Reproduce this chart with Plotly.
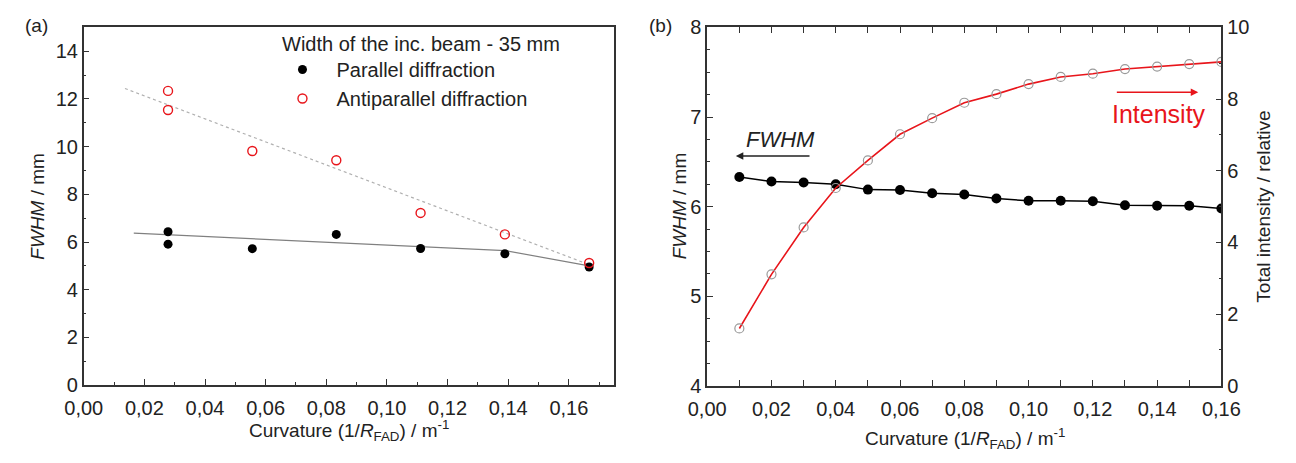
import plotly.graph_objects as go

# ---------- data ----------
# (a) FWHM vs curvature for a 35 mm incident beam
curv_a = [0.0278, 0.0278, 0.0556, 0.0833, 0.1111, 0.1389, 0.1667]
fwhm_parallel = [6.43, 5.91, 5.72, 6.32, 5.73, 5.51, 4.95]
fwhm_antiparallel = [12.34, 11.54, 9.82, 9.43, 7.22, 6.32, 5.12]

# guide lines through each series
guide_par_x = [0.0165, 0.1390, 0.1667]
guide_par_y = [6.37, 5.64, 5.00]
guide_anti_x = [0.0136, 0.1667]
guide_anti_y = [12.44, 5.05]

# (b) FWHM and total intensity vs curvature
curv_b = [0.01, 0.02, 0.03, 0.04, 0.05, 0.06, 0.07, 0.08,
          0.09, 0.10, 0.11, 0.12, 0.13, 0.14, 0.15, 0.16]
fwhm_b = [6.33, 6.28, 6.27, 6.25, 6.19, 6.185, 6.15, 6.135,
          6.09, 6.065, 6.065, 6.06, 6.015, 6.01, 6.01, 5.98]
intensity_b = [1.60, 3.11, 4.42, 5.52, 6.29, 7.02, 7.47, 7.90,
               8.14, 8.42, 8.62, 8.71, 8.84, 8.91, 8.98, 9.04]

x_ticks_a = [0.00, 0.02, 0.04, 0.06, 0.08, 0.10, 0.12, 0.14, 0.16]
x_ticks_b = [0.00, 0.02, 0.04, 0.06, 0.08, 0.10, 0.12, 0.14, 0.16]

FONT = "Liberation Sans, Arial, sans-serif"
RED = "#e8151b"
AXC = "#333333"
W, H = 1296, 463


def px_x(p):
    return p / W


def px_y(p):
    return (H - p) / H


fig = go.Figure()

# ---- panel (a) ----
fig.add_trace(go.Scatter(x=guide_anti_x, y=guide_anti_y, mode="lines",
                         line=dict(color="#b0b0b0", width=1.2, dash="dot"),
                         showlegend=False, hoverinfo="skip", xaxis="x", yaxis="y"))
fig.add_trace(go.Scatter(x=guide_par_x, y=guide_par_y, mode="lines",
                         line=dict(color="#808080", width=1.2),
                         showlegend=False, hoverinfo="skip", xaxis="x", yaxis="y"))
fig.add_trace(go.Scatter(x=curv_a, y=fwhm_parallel, mode="markers",
                         name="Parallel diffraction",
                         marker=dict(symbol="circle", size=9, color="black"),
                         xaxis="x", yaxis="y"))
fig.add_trace(go.Scatter(x=curv_a, y=fwhm_antiparallel, mode="markers",
                         name="Antiparallel diffraction",
                         marker=dict(symbol="circle-open", size=9, color=RED,
                                     line=dict(width=1.4)),
                         xaxis="x", yaxis="y"))

# ---- panel (b) ----
fig.add_trace(go.Scatter(x=curv_b, y=fwhm_b, mode="lines+markers",
                         line=dict(color="black", width=1.5),
                         marker=dict(symbol="circle", size=10, color="black"),
                         showlegend=False, xaxis="x2", yaxis="y2"))
fig.add_trace(go.Scatter(x=curv_b, y=intensity_b, mode="lines+markers",
                         line=dict(color=RED, width=1.6),
                         marker=dict(symbol="circle-open", size=9, color="#9a9a9a",
                                     line=dict(width=1.2)),
                         showlegend=False, xaxis="x2", yaxis="y3"))

tickfont = dict(family=FONT, size=20, color="#222222")
common = dict(showline=True, linecolor=AXC, linewidth=1.5, ticks="inside",
              tickcolor=AXC, tickwidth=1.2, ticklen=6, showgrid=False,
              zeroline=False, tickfont=tickfont)

fig.update_layout(
    width=W, height=H,
    margin=dict(l=0, r=0, t=0, b=0),
    paper_bgcolor="white", plot_bgcolor="white",
    separators=", ",
    font=dict(family=FONT, color="#222222"),
    xaxis=dict(domain=[px_x(66.7), px_x(613.3)], range=[0, 0.175],
               tickvals=x_ticks_a, tickformat=".2f", mirror=True,
               ticklabelstandoff=4,
               minor=dict(dtick=0.01, ticks="inside", ticklen=3, tickcolor=AXC),
               anchor="y", **common),
    yaxis=dict(domain=[px_y(392.7), px_y(17.3)], range=[0, 15], dtick=2,
               mirror=True,
               minor=dict(dtick=1, ticks="inside", ticklen=3, tickcolor=AXC),
               anchor="x", **common),
    xaxis2=dict(domain=[px_x(709), px_x(1238.7)], range=[0, 0.16],
                tickvals=x_ticks_b, tickformat=".2f", mirror="allticks",
                ticklabelstandoff=4,
                minor=dict(dtick=0.01, ticks="inside", ticklen=3, tickcolor=AXC),
                anchor="y2", **common),
    yaxis2=dict(domain=[px_y(393.5), px_y(17.3)], range=[4, 8], dtick=1,
                minor=dict(dtick=0.25, ticks="inside", ticklen=3, tickcolor=AXC),
                anchor="x2", **common),
    yaxis3=dict(range=[0, 10], dtick=2, overlaying="y2", side="right",
                anchor="x2",
                minor=dict(dtick=1, ticks="inside", ticklen=3, tickcolor=AXC),
                **common),
    legend=dict(x=px_x(257), y=px_y(41), xanchor="left", yanchor="top",
                bgcolor="rgba(0,0,0,0)", itemwidth=58,
                font=dict(family=FONT, size=20, color="#222222")),
    showlegend=True,
)

ann = []
# panel labels
ann.append(dict(text="(a)", x=px_x(4), y=px_y(15), xanchor="left", yanchor="middle"))
ann.append(dict(text="(b)", x=px_x(647), y=px_y(15), xanchor="left", yanchor="middle"))
# legend heading
ann.append(dict(text="Width of the inc. beam - 35 mm", x=px_x(269), y=px_y(35),
                xanchor="left", yanchor="middle", font_size=20))
# axis titles
xt = "Curvature (1/<i>R</i><sub>FAD</sub>) / m<sup>-1</sup>"
ann.append(dict(text=xt, x=px_x(340), y=px_y(440), xanchor="center", yanchor="middle"))
ann.append(dict(text=xt, x=px_x(975), y=px_y(449), xanchor="center", yanchor="middle"))
ann.append(dict(text="<i>FWHM</i> / mm", x=px_x(19), y=px_y(205), textangle=-90,
                xanchor="center", yanchor="middle"))
ann.append(dict(text="<i>FWHM</i> / mm", x=px_x(680), y=px_y(205), textangle=-90,
                xanchor="center", yanchor="middle"))
ann.append(dict(text="Total intensity / relative", x=px_x(1282), y=px_y(205),
                textangle=-90, xanchor="center", yanchor="middle"))
for a in ann:
    size = a.pop("font_size", 19)
    a.update(xref="paper", yref="paper", showarrow=False,
             font=dict(family=FONT, size=size, color="#222222"))

# series markers inside panel (b)
ann.append(dict(text="<i>FWHM</i>", x=0.0229, y=6.75, xref="x2", yref="y2",
                showarrow=False, font=dict(family=FONT, size=22, color="#222222")))
ann.append(dict(text="", x=0.0089, y=6.565, ax=0.0323, ay=6.565,
                xref="x2", yref="y2", axref="x2", ayref="y2",
                showarrow=True, arrowhead=2, arrowsize=1, arrowwidth=1.5,
                arrowcolor="#222222"))
ann.append(dict(text="Intensity", x=0.1405, y=7.58, xref="x2", yref="y3",
                showarrow=False, font=dict(family=FONT, size=25, color=RED)))
ann.append(dict(text="", x=0.1528, y=8.19, ax=0.127, ay=8.19,
                xref="x2", yref="y3", axref="x2", ayref="y3",
                showarrow=True, arrowhead=2, arrowsize=1, arrowwidth=1.5,
                arrowcolor=RED))
fig.update_layout(annotations=ann)

fig.write_html("out.html")
